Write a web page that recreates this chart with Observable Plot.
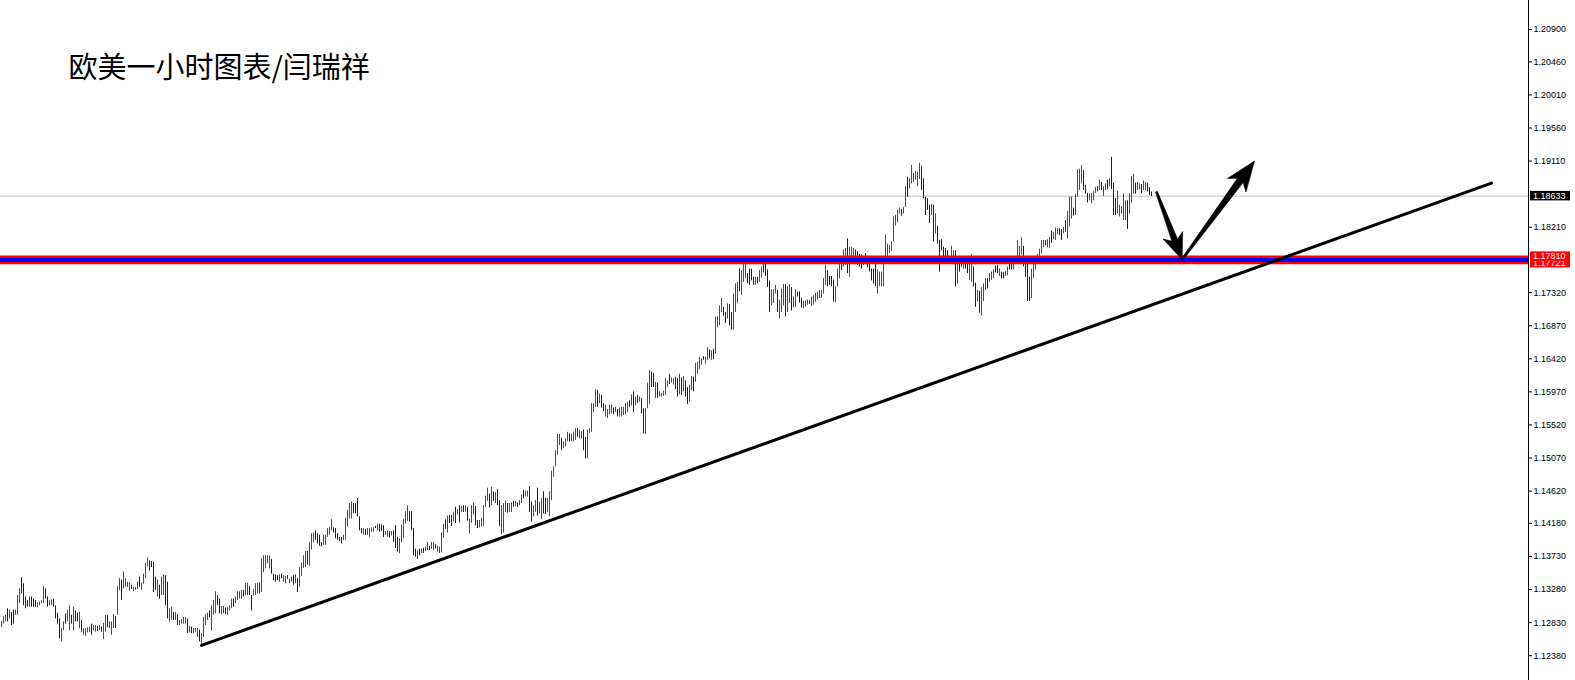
<!DOCTYPE html>
<html>
<head>
<meta charset="utf-8">
<script src="https://cdn.jsdelivr.net/npm/d3@7"></script>
<script src="https://cdn.jsdelivr.net/npm/@observablehq/plot@0.6"></script>
<style>
html, body { margin: 0; padding: 0; background: #fff; overflow: hidden; }
#chart { width: 1575px; height: 680px; }
</style>
</head>
<body>
<div id="chart"></div>
<script>
// ---------- DATA ----------
const title = "欧美一小时图表/闫瑞祥";

// hourly bar highs (one per bar, left to right)
const high = [
1.1285,1.1291,1.1293,1.1302,1.1300,1.1297,1.1300,1.1300,1.1320,1.1329,
1.1344,1.1336,1.1318,1.1313,1.1318,1.1318,1.1315,1.1313,1.1310,1.1311,
1.1313,1.1332,1.1329,1.1318,1.1313,1.1314,1.1315,1.1306,1.1296,1.1288,
1.1275,1.1284,1.1295,1.1300,1.1306,1.1293,1.1304,1.1299,1.1296,1.1297,
1.1286,1.1275,1.1275,1.1276,1.1277,1.1281,1.1279,1.1279,1.1278,1.1279,
1.1277,1.1282,1.1293,1.1293,1.1284,1.1284,1.1294,1.1291,1.1332,1.1343,
1.1341,1.1352,1.1343,1.1338,1.1337,1.1334,1.1331,1.1331,1.1338,1.1345,
1.1337,1.1349,1.1364,1.1371,1.1367,1.1366,1.1365,1.1345,1.1341,1.1334,
1.1345,1.1348,1.1347,1.1338,1.1302,1.1304,1.1297,1.1297,1.1294,1.1286,
1.1287,1.1290,1.1290,1.1288,1.1278,1.1277,1.1275,1.1275,1.1275,1.1273,
1.1268,1.1290,1.1294,1.1296,1.1299,1.1306,1.1313,1.1325,1.1320,1.1315,
1.1305,1.1305,1.1303,1.1304,1.1306,1.1315,1.1315,1.1318,1.1325,1.1325,
1.1327,1.1327,1.1336,1.1336,1.1332,1.1320,1.1328,1.1336,1.1337,1.1337,
1.1370,1.1374,1.1374,1.1374,1.1374,1.1369,1.1349,1.1348,1.1347,1.1348,
1.1349,1.1347,1.1346,1.1347,1.1342,1.1345,1.1347,1.1348,1.1343,1.1358,
1.1364,1.1374,1.1380,1.1380,1.1392,1.1404,1.1405,1.1408,1.1404,1.1402,
1.1392,1.1402,1.1402,1.1411,1.1412,1.1423,1.1412,1.1411,1.1404,1.1399,
1.1399,1.1402,1.1425,1.1436,1.1445,1.1447,1.1445,1.1445,1.1452,1.1427,
1.1411,1.1411,1.1410,1.1411,1.1411,1.1412,1.1412,1.1414,1.1417,1.1417,
1.1416,1.1415,1.1407,1.1408,1.1407,1.1407,1.1408,1.1415,1.1399,1.1397,
1.1416,1.1423,1.1434,1.1442,1.1434,1.1434,1.1411,1.1383,1.1381,1.1383,
1.1383,1.1384,1.1386,1.1392,1.1387,1.1392,1.1392,1.1389,1.1387,1.1386,
1.1405,1.1417,1.1423,1.1428,1.1429,1.1429,1.1433,1.1440,1.1437,1.1442,
1.1441,1.1442,1.1442,1.1440,1.1424,1.1442,1.1446,1.1441,1.1422,1.1422,
1.1425,1.1442,1.1455,1.1466,1.1458,1.1467,1.1461,1.1460,1.1464,1.1449,
1.1442,1.1445,1.1448,1.1445,1.1445,1.1446,1.1448,1.1448,1.1446,1.1449,
1.1457,1.1463,1.1462,1.1462,1.1468,1.1447,1.1442,1.1449,1.1466,1.1447,
1.1452,1.1461,1.1452,1.1452,1.1461,1.1489,1.1495,1.1517,1.1539,1.1539,
1.1534,1.1529,1.1533,1.1542,1.1540,1.1539,1.1542,1.1547,1.1547,1.1545,
1.1543,1.1545,1.1535,1.1545,1.1547,1.1581,1.1581,1.1600,1.1599,1.1594,
1.1592,1.1581,1.1579,1.1573,1.1579,1.1579,1.1575,1.1576,1.1573,1.1575,
1.1576,1.1576,1.1581,1.1583,1.1585,1.1593,1.1597,1.1590,1.1592,1.1590,
1.1588,1.1574,1.1574,1.1609,1.1626,1.1624,1.1622,1.1610,1.1609,1.1597,
1.1595,1.1598,1.1615,1.1612,1.1621,1.1616,1.1615,1.1617,1.1615,1.1621,
1.1616,1.1618,1.1612,1.1603,1.1606,1.1618,1.1617,1.1636,1.1637,1.1644,
1.1642,1.1645,1.1644,1.1657,1.1654,1.1653,1.1655,1.1699,1.1699,1.1714,
1.1724,1.1712,1.1705,1.1717,1.1716,1.1705,1.1730,1.1744,1.1746,1.1764,
1.1762,1.1777,1.1771,1.1758,1.1764,1.1764,1.1753,1.1753,1.1753,1.1762,
1.1767,1.1773,1.1772,1.1763,1.1748,1.1736,1.1736,1.1742,1.1735,1.1722,
1.1737,1.1743,1.1743,1.1740,1.1743,1.1739,1.1726,1.1736,1.1733,1.1733,
1.1724,1.1720,1.1721,1.1722,1.1721,1.1726,1.1728,1.1731,1.1733,1.1735,
1.1735,1.1751,1.1769,1.1762,1.1754,1.1754,1.1749,1.1740,1.1764,1.1778,
1.1776,1.1790,1.1792,1.1805,1.1794,1.1794,1.1792,1.1790,1.1788,1.1784,
1.1783,1.1778,1.1785,1.1775,1.1771,1.1764,1.1764,1.1771,1.1763,1.1760,
1.1760,1.1778,1.1810,1.1798,1.1796,1.1801,1.1835,1.1837,1.1844,1.1847,
1.1845,1.1848,1.1876,1.1889,1.1887,1.1905,1.1894,1.1897,1.1896,1.1908,
1.1904,1.1887,1.1862,1.1860,1.1851,1.1852,1.1851,1.1839,1.1822,1.1803,
1.1804,1.1794,1.1792,1.1789,1.1778,1.1795,1.1789,1.1789,1.1771,1.1776,
1.1778,1.1780,1.1775,1.1771,1.1772,1.1784,1.1767,1.1745,1.1735,1.1734,
1.1739,1.1744,1.1751,1.1751,1.1758,1.1760,1.1763,1.1768,1.1769,1.1764,
1.1760,1.1759,1.1761,1.1767,1.1772,1.1774,1.1771,1.1781,1.1803,1.1795,
1.1807,1.1795,1.1771,1.1771,1.1753,1.1764,1.1771,1.1778,1.1784,1.1791,
1.1803,1.1803,1.1803,1.1804,1.1807,1.1816,1.1814,1.1820,1.1819,1.1819,
1.1818,1.1821,1.1830,1.1842,1.1862,1.1862,1.1847,1.1866,1.1899,1.1900,
1.1905,1.1898,1.1878,1.1867,1.1866,1.1867,1.1870,1.1875,1.1876,1.1885,
1.1882,1.1876,1.1880,1.1885,1.1887,1.1916,1.1881,1.1860,1.1870,1.1851,
1.1849,1.1866,1.1857,1.1857,1.1867,1.1890,1.1893,1.1881,1.1882,1.1880,
1.1879,1.1884,1.1882,1.1881,1.1875,1.1869
];

// hourly bar lows
const low = [
1.1276,1.1281,1.1284,1.1284,1.1288,1.1279,1.1281,1.1293,1.1293,1.1309,
1.1322,1.1306,1.1302,1.1304,1.1304,1.1304,1.1304,1.1304,1.1303,1.1306,
1.1309,1.1309,1.1315,1.1304,1.1306,1.1306,1.1304,1.1288,1.1281,1.1261,
1.1257,1.1272,1.1281,1.1284,1.1272,1.1281,1.1272,1.1284,1.1284,1.1275,
1.1270,1.1266,1.1264,1.1269,1.1270,1.1266,1.1272,1.1270,1.1271,1.1272,
1.1270,1.1260,1.1270,1.1276,1.1275,1.1266,1.1275,1.1275,1.1293,1.1327,
1.1313,1.1329,1.1331,1.1331,1.1326,1.1328,1.1325,1.1327,1.1328,1.1331,
1.1327,1.1335,1.1343,1.1359,1.1353,1.1358,1.1324,1.1327,1.1318,1.1315,
1.1320,1.1320,1.1306,1.1288,1.1284,1.1286,1.1286,1.1286,1.1279,1.1279,
1.1281,1.1281,1.1281,1.1268,1.1269,1.1268,1.1268,1.1270,1.1263,1.1257,
1.1252,1.1263,1.1279,1.1286,1.1290,1.1272,1.1293,1.1295,1.1306,1.1295,
1.1294,1.1295,1.1294,1.1293,1.1299,1.1302,1.1304,1.1309,1.1313,1.1315,
1.1315,1.1318,1.1320,1.1320,1.1320,1.1299,1.1319,1.1320,1.1322,1.1322,
1.1324,1.1351,1.1356,1.1363,1.1356,1.1349,1.1340,1.1338,1.1340,1.1338,
1.1343,1.1338,1.1336,1.1342,1.1336,1.1338,1.1334,1.1336,1.1324,1.1331,
1.1346,1.1357,1.1358,1.1361,1.1360,1.1382,1.1392,1.1395,1.1390,1.1387,
1.1386,1.1388,1.1388,1.1399,1.1402,1.1408,1.1405,1.1397,1.1395,1.1393,
1.1390,1.1395,1.1395,1.1413,1.1424,1.1424,1.1431,1.1431,1.1427,1.1408,
1.1404,1.1402,1.1402,1.1402,1.1399,1.1406,1.1406,1.1411,1.1408,1.1406,
1.1407,1.1399,1.1402,1.1399,1.1398,1.1401,1.1392,1.1384,1.1379,1.1377,
1.1392,1.1397,1.1417,1.1421,1.1420,1.1408,1.1374,1.1372,1.1369,1.1374,
1.1377,1.1377,1.1380,1.1381,1.1381,1.1383,1.1381,1.1383,1.1379,1.1377,
1.1378,1.1398,1.1410,1.1405,1.1418,1.1414,1.1420,1.1418,1.1429,1.1419,
1.1433,1.1433,1.1433,1.1421,1.1404,1.1418,1.1429,1.1415,1.1411,1.1412,
1.1413,1.1414,1.1440,1.1448,1.1439,1.1442,1.1448,1.1445,1.1442,1.1414,
1.1403,1.1405,1.1433,1.1432,1.1433,1.1433,1.1440,1.1441,1.1440,1.1442,
1.1445,1.1452,1.1454,1.1454,1.1433,1.1420,1.1427,1.1433,1.1428,1.1431,
1.1423,1.1431,1.1430,1.1433,1.1427,1.1449,1.1481,1.1495,1.1511,1.1524,
1.1517,1.1520,1.1522,1.1529,1.1529,1.1529,1.1529,1.1531,1.1535,1.1533,
1.1533,1.1517,1.1506,1.1506,1.1540,1.1542,1.1569,1.1576,1.1576,1.1581,
1.1575,1.1570,1.1563,1.1561,1.1566,1.1567,1.1566,1.1569,1.1563,1.1563,
1.1563,1.1565,1.1566,1.1569,1.1576,1.1578,1.1569,1.1578,1.1581,1.1583,
1.1567,1.1540,1.1539,1.1574,1.1580,1.1603,1.1603,1.1588,1.1588,1.1590,
1.1590,1.1591,1.1592,1.1603,1.1607,1.1609,1.1606,1.1600,1.1590,1.1593,
1.1592,1.1597,1.1590,1.1580,1.1583,1.1599,1.1597,1.1610,1.1621,1.1627,
1.1633,1.1640,1.1635,1.1640,1.1642,1.1640,1.1641,1.1648,1.1684,1.1687,
1.1705,1.1700,1.1690,1.1696,1.1687,1.1681,1.1681,1.1705,1.1717,1.1733,
1.1728,1.1746,1.1751,1.1744,1.1742,1.1748,1.1742,1.1742,1.1744,1.1746,
1.1752,1.1759,1.1754,1.1739,1.1705,1.1714,1.1717,1.1730,1.1705,1.1696,
1.1705,1.1714,1.1699,1.1705,1.1717,1.1707,1.1711,1.1712,1.1726,1.1718,
1.1711,1.1710,1.1712,1.1715,1.1716,1.1713,1.1715,1.1719,1.1722,1.1724,
1.1724,1.1730,1.1742,1.1740,1.1742,1.1740,1.1719,1.1718,1.1740,1.1751,
1.1762,1.1767,1.1769,1.1758,1.1753,1.1774,1.1780,1.1776,1.1769,1.1767,
1.1764,1.1769,1.1776,1.1766,1.1760,1.1748,1.1744,1.1740,1.1730,1.1740,
1.1740,1.1740,1.1771,1.1774,1.1785,1.1788,1.1801,1.1823,1.1827,1.1839,
1.1836,1.1839,1.1848,1.1862,1.1873,1.1880,1.1882,1.1885,1.1876,1.1886,
1.1871,1.1860,1.1837,1.1844,1.1826,1.1837,1.1801,1.1812,1.1798,1.1760,
1.1789,1.1780,1.1780,1.1771,1.1771,1.1774,1.1771,1.1740,1.1744,1.1760,
1.1767,1.1764,1.1764,1.1758,1.1749,1.1746,1.1740,1.1712,1.1719,1.1704,
1.1700,1.1720,1.1735,1.1737,1.1746,1.1749,1.1751,1.1759,1.1758,1.1754,
1.1751,1.1751,1.1754,1.1755,1.1763,1.1763,1.1763,1.1771,1.1776,1.1771,
1.1783,1.1767,1.1753,1.1720,1.1720,1.1724,1.1751,1.1763,1.1774,1.1781,
1.1785,1.1793,1.1796,1.1793,1.1792,1.1799,1.1804,1.1803,1.1811,1.1810,
1.1803,1.1812,1.1814,1.1805,1.1821,1.1832,1.1836,1.1837,1.1862,1.1871,
1.1880,1.1871,1.1866,1.1854,1.1857,1.1853,1.1857,1.1867,1.1869,1.1871,
1.1871,1.1863,1.1871,1.1872,1.1876,1.1872,1.1837,1.1837,1.1839,1.1835,
1.1839,1.1830,1.1830,1.1818,1.1839,1.1853,1.1866,1.1866,1.1871,1.1872,
1.1867,1.1871,1.1871,1.1869,1.1864,1.1863
];

// bar direction: R = up bar (red), B = down bar (blue)
const direction = [
"RRRBRBBRRR","BBBBRBBBRR","RRBBRRBBBB","RRBRRBRBBR","BRRRRBRRBR","BRRBRRRBRR","BRRRRBRRRB",
"RRRRBBBBRB","RRBBRRBRBR","RRRBRBRRRB","RRRRBRRRBB","RRBRRRBRRR","RBRRBBRRRB",
"RRRRRBBBBR","BRRBRRBRBR","RRRBRRRBBB","BRRRRRBBBB","BRRRRRBBBB","BRBRRRRBRB","BBRRBRBBBR","RRRRBBBBRB","RBRRBRRBRR",
"RRBRBBRBRB","RBRBRRRBBR","RRRRBRBRBB","RRRBRRBRBR","RBRRBBRRBR","RBBRRRRRRR","BRRRBRRRBR","RBBRRRRRBR","BBRRRRBRBR",
"RRRRBRBRBR","BBRRRBBRBR","RRRRBRRBBR","BRBBRRBRRR","RBRRBRBRRR","RBBRBBRRRB","RRRBBBBRBR","RBBBBRRRBR","RRBRRBRRBB",
"BRRRBRRRRR","RRRBBBBRRR","BRRBRRRBBB","BRBBBBBBRR","RRRRRRRRRR","BRRBRRRRRR","BBBBBRBRBB","BBBBRRRBRB","BRBBRRBBRB",
"RRRBRRRBBR","BBRRBBRRRR","RBBBBRRRRR","RRBRRBRRRB","BRBRRRBRRR","RBBBRRRRBR","BRRBRBBBRR","RRRBRRRBRR","BRRBBB"
].join("").split("");

// price-axis tick labels
const yTicks = [1.20900,1.20460,1.20010,1.19560,1.19110,1.18210,1.17320,1.16870,1.16420,
                1.15970,1.15520,1.15070,1.14620,1.14180,1.13730,1.13280,1.12830,1.12380];

const currentPrice = 1.18633;
const zoneTop = 1.17810;
const zoneBottom = 1.17721;

// trend line (bar index, price)
const trendIndex = [100, 745];
const trendPrice = [1.1252, 1.1881];

// arrows (bar index, price): start -> end
const arrowFromIndex = [577.5, 590.3];
const arrowFromPrice = [1.1869, 1.1777];
const arrowToIndex = [590.3, 626.5];
const arrowToPrice = [1.1777, 1.1911];

// ---------- CHART ----------
const W = 1575, H = 680, MR = 47;
const xDomain = [-0.5, 763.5];
const yDomain = [1.12043, 1.21295];

const bars = high.map((h, i) => ({i, high: h, low: low[i], up: direction[i] !== "B"}));
const trend = trendIndex.map((t, k) => ({i: t, p: trendPrice[k]}));

// arrow polygons: built in screen space with scales matching the plot, then mapped back to data
const xs = d3.scaleLinear(xDomain, [0, W - MR]);
const ys = d3.scaleLinear(yDomain, [H, 0]);
const arrowSpec = [
  {w0: 2, w1: 6, headLen: 26, headW: 21},
  {w0: 2, w1: 7, headLen: 30, headW: 23}
];
const arrowPts = [];
arrowFromIndex.forEach((fi, k) => {
  const x0 = xs(fi), y0 = ys(arrowFromPrice[k]);
  const x1 = xs(arrowToIndex[k]), y1 = ys(arrowToPrice[k]);
  const s = arrowSpec[k];
  const L = Math.hypot(x1 - x0, y1 - y0);
  const ux = (x1 - x0) / L, uy = (y1 - y0) / L, nx = -uy, ny = ux;
  const bx = x1 - ux * s.headLen, by = y1 - uy * s.headLen;
  const nxb = x1 - ux * s.headLen * 0.8, nyb = y1 - uy * s.headLen * 0.8;
  const pts = [
    [x0 + nx * s.w0 / 2, y0 + ny * s.w0 / 2],
    [nxb + nx * s.w1 / 2, nyb + ny * s.w1 / 2],
    [bx + nx * s.headW / 2, by + ny * s.headW / 2],
    [x1, y1],
    [bx - nx * s.headW / 2, by - ny * s.headW / 2],
    [nxb - nx * s.w1 / 2, nyb - ny * s.w1 / 2],
    [x0 - nx * s.w0 / 2, y0 - ny * s.w0 / 2]
  ];
  pts.forEach(([px, py]) => arrowPts.push({id: k, i: xs.invert(px), p: ys.invert(py)}));
});

const plot = Plot.plot({
  width: W,
  height: H,
  marginLeft: 0,
  marginRight: MR,
  marginTop: 0,
  marginBottom: 0,
  style: {background: "#fff", fontFamily: "'Liberation Sans', Arial, sans-serif", fontSize: "9px", color: "#000", overflow: "visible"},
  x: {domain: xDomain, axis: null},
  y: {domain: yDomain, axis: "right", ticks: yTicks, tickFormat: d3.format(".5f"), tickSize: 3, tickPadding: 2, label: null},
  marks: [
    Plot.ruleY([currentPrice], {stroke: "#c0c0c0", strokeWidth: 1}),
    Plot.ruleX(bars, {x: "i", y1: "low", y2: "high", stroke: d => d.up ? "#ff0000" : "#0000ff", strokeWidth: 1}),
    Plot.ruleY([(zoneTop + zoneBottom) / 2], {stroke: "#0000ff", strokeWidth: 5.5}),
    Plot.ruleY([zoneTop, zoneBottom], {stroke: "#ff0000", strokeWidth: 2.2}),
    Plot.line(trend, {x: "i", y: "p", stroke: "#000", strokeWidth: 3}),
    Plot.line(arrowPts, {x: "i", y: "p", z: "id", fill: "#000", stroke: "#000", strokeWidth: 0.6, curve: "linear-closed"}),
    Plot.ruleX([xDomain[1]], {stroke: "#000", strokeWidth: 1}),
    Plot.text([title], {frameAnchor: "top-left", dx: 68, dy: 68, textAnchor: "start", lineAnchor: "middle",
      fontSize: 29, fontFamily: "'Noto Sans CJK SC', sans-serif", fill: "#000"})
  ]
});

document.getElementById("chart").appendChild(plot);

// price tags on the axis (bottom zone tag first, upper zone tag over it, then current price)
const yScale = plot.scale ? plot.scale("y") : null;
const yPx = v => (yScale && yScale.apply) ? yScale.apply(v) : ys(v);
const tags = [
  {value: zoneBottom, bg: "#ff0000"},
  {value: zoneTop, bg: "#ff0000"},
  {value: currentPrice, bg: "#000000"}
];
const svgSel = d3.select(plot.tagName.toLowerCase() === "svg" ? plot : plot.querySelector("svg"));
const tagX = W - MR + 2;
tags.forEach(t => {
  const cy = yPx(t.value);
  const g = svgSel.append("g").attr("text-anchor", "start");
  g.append("rect").attr("x", tagX).attr("y", cy - 4.75).attr("width", 40).attr("height", 9.5).attr("fill", t.bg);
  g.append("text").attr("x", tagX + 3).attr("y", cy).attr("dy", "0.36em")
    .attr("text-anchor", "start")
    .attr("fill", "#fff").attr("font-size", 9)
    .attr("font-family", "'Liberation Sans', Arial, sans-serif")
    .text(d3.format(".5f")(t.value));
});
</script>
</body>
</html>
